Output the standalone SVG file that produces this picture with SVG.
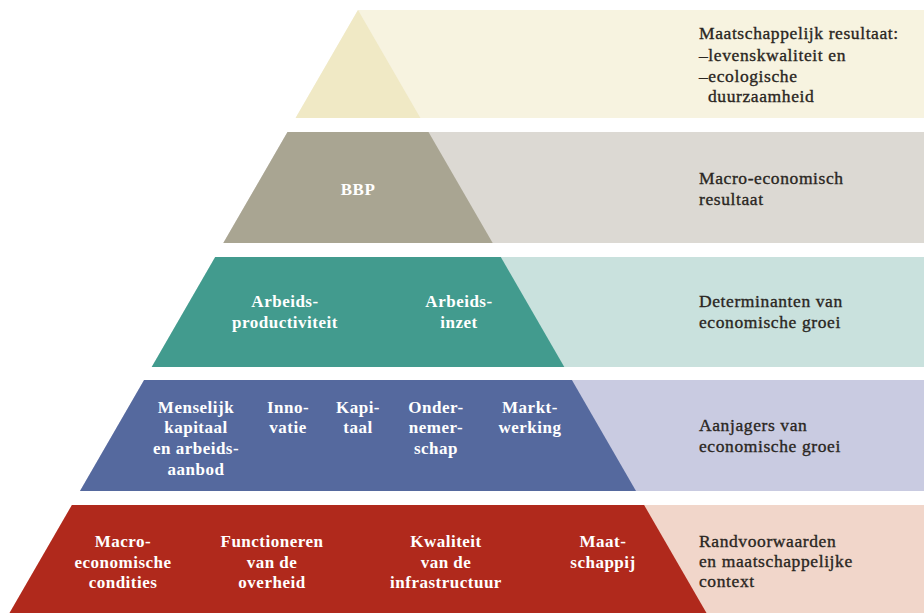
<svg xmlns="http://www.w3.org/2000/svg" width="924" height="613" viewBox="0 0 924 613">
<style>
.lab{font-family:"Liberation Serif","Times New Roman",serif;font-size:17.5px;letter-spacing:0.6px;fill:#2a2622;stroke:#2a2622;stroke-width:0.35}
.in{font-family:"Liberation Serif","Times New Roman",serif;font-size:17px;letter-spacing:0.5px;font-weight:bold;fill:#ffffff;text-anchor:middle}
</style>
<rect width="924" height="613" fill="#ffffff"/>
<g id="level1">
<polygon points="358,10 924,10 924,118 295.6,118" fill="#f7f3e0"/>
<polygon points="358,10 420.4,118 295.6,118" fill="#f0e9c5"/>
<text class="lab"><tspan x="699" y="39">Maatschappelijk resultaat:</tspan><tspan x="699" y="61">–levenskwaliteit en</tspan><tspan x="699" y="82">–ecologische</tspan><tspan x="708" y="102">duurzaamheid</tspan></text>
</g>
<g id="level2">
<polygon points="287.5,132 924,132 924,243 223.3,243" fill="#dcd9d3"/>
<polygon points="287.5,132 428.5,132 492.7,243 223.3,243" fill="#a9a592"/>
<text class="in" x="358" y="195">BBP</text>
<text class="lab"><tspan x="699" y="184">Macro-economisch</tspan><tspan x="699" y="205">resultaat</tspan></text>
</g>
<g id="level3">
<polygon points="215.2,257 924,257 924,367 151.7,367" fill="#c9e1dd"/>
<polygon points="215.2,257 500.8,257 564.3,367 151.7,367" fill="#429b8e"/>
<text class="in"><tspan x="285" y="307">Arbeids-</tspan><tspan x="285" y="328">productiviteit</tspan></text>
<text class="in"><tspan x="459" y="307">Arbeids-</tspan><tspan x="459" y="328">inzet</tspan></text>
<text class="lab"><tspan x="699" y="307">Determinanten van</tspan><tspan x="699" y="328">economische groei</tspan></text>
</g>
<g id="level4">
<polygon points="144.1,380 924,380 924,491 80,491" fill="#c9cbe1"/>
<polygon points="144.1,380 571.9,380 636,491 80,491" fill="#55699e"/>
<text class="in"><tspan x="196" y="413">Menselijk</tspan><tspan x="196" y="433">kapitaal</tspan><tspan x="196" y="454">en arbeids-</tspan><tspan x="196" y="475">aanbod</tspan></text>
<text class="in"><tspan x="288" y="413">Inno-</tspan><tspan x="288" y="433">vatie</tspan></text>
<text class="in"><tspan x="358" y="413">Kapi-</tspan><tspan x="358" y="433">taal</tspan></text>
<text class="in"><tspan x="436" y="413">Onder-</tspan><tspan x="436" y="433">nemer-</tspan><tspan x="436" y="454">schap</tspan></text>
<text class="in"><tspan x="530" y="413">Markt-</tspan><tspan x="530" y="433">werking</tspan></text>
<text class="lab"><tspan x="699" y="431">Aanjagers van</tspan><tspan x="699" y="452">economische groei</tspan></text>
</g>
<g id="level5">
<polygon points="71.9,505 924,505 924,613 9.5,613" fill="#f1d6ca"/>
<polygon points="71.9,505 644.1,505 706.5,613 9.5,613" fill="#b0291c"/>
<text class="in"><tspan x="123" y="547">Macro-</tspan><tspan x="123" y="568">economische</tspan><tspan x="123" y="588">condities</tspan></text>
<text class="in"><tspan x="272" y="547">Functioneren</tspan><tspan x="272" y="568">van de</tspan><tspan x="272" y="588">overheid</tspan></text>
<text class="in"><tspan x="446" y="547">Kwaliteit</tspan><tspan x="446" y="568">van de</tspan><tspan x="446" y="588">infrastructuur</tspan></text>
<text class="in"><tspan x="603" y="547">Maat-</tspan><tspan x="603" y="568">schappij</tspan></text>
<text class="lab"><tspan x="699" y="547">Randvoorwaarden</tspan><tspan x="699" y="567">en maatschappelijke</tspan><tspan x="699" y="587">context</tspan></text>
</g>
</svg>
